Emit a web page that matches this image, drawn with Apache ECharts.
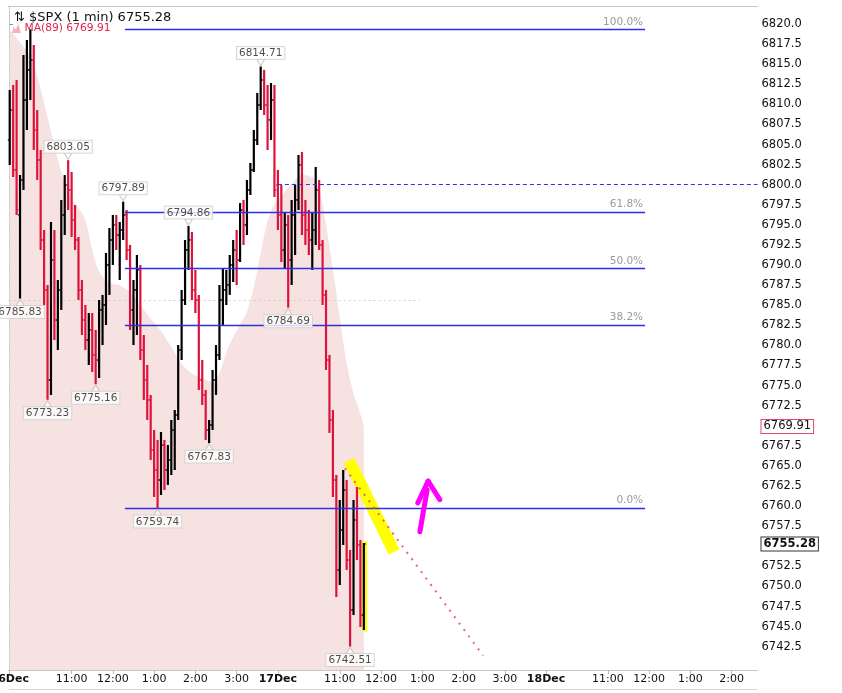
<!DOCTYPE html>
<html><head><meta charset="utf-8">
<script src="https://cdn.jsdelivr.net/npm/echarts@6/dist/echarts.min.js"></script>
<style>html,body{margin:0;padding:0;background:#fff}#c{width:842px;height:693px}</style>
</head><body><div id="c"></div>
<script>
// ---- x axis (5-minute slots from 16 Dec 9:30) ----
const slotCount = 218;
const tickSlots  = [0, 18, 30, 42, 54, 66, 78, 96, 108, 120, 132, 144, 156, 174, 186, 198, 210];
const tickLabels = ['16Dec','11:00','12:00','1:00','2:00','3:00','17Dec','11:00','12:00','1:00','2:00','3:00','18Dec','11:00','12:00','1:00','2:00'];
// ---- y axis tick labels ----
const priceTicks = [6742.5,6745,6747.5,6750,6752.5,6757.5,6760,6762.5,6765,6767.5,6772.5,6775,6777.5,6780,6782.5,6785,6787.5,6790,6792.5,6795,6797.5,6800,6802.5,6805,6807.5,6810,6812.5,6815,6817.5,6820];
// ---- bars: [slot, open, high, low, close] ----
const barsDec16 = [
[0,6805.57,6811.79,6802.45,6809.30],[1,6809.30,6812.41,6800.96,6801.83],[2,6801.83,6813.03,6796.23,6796.85],
[3,6796.23,6801.21,6785.83,6800.59],[4,6800.59,6816.14,6799.34,6810.54],[5,6810.54,6818.01,6806.81,6814.28],
[6,6814.28,6819.34,6810.54,6815.52],[7,6815.52,6817.39,6804.32,6806.81],[8,6806.81,6809.30,6800.59,6803.08],
[9,6803.08,6804.32,6791.87,6793.12],[10,6793.12,6794.36,6785.03,6786.90],[11,6786.90,6787.52,6773.23,6775.69],
[12,6775.69,6795.36,6773.83,6790.63],[13,6790.63,6794.36,6780.67,6783.16],[14,6783.16,6788.14,6779.43,6786.90],
[15,6786.90,6798.10,6784.41,6796.23],[16,6796.23,6801.21,6793.74,6799.96],[17,6799.96,6803.05,6796.85,6799.34],
[18,6799.34,6801.58,6793.49,6795.61],[19,6795.61,6797.47,6791.87,6793.12],[20,6793.12,6793.49,6785.65,6786.90],
[21,6786.90,6788.14,6781.29,6783.16],[22,6783.16,6785.03,6779.43,6780.67],[23,6780.67,6784.03,6777.56,6781.92],
[24,6781.92,6784.03,6776.69,6778.81],[25,6778.81,6781.92,6775.16,6778.18],[26,6778.18,6785.65,6775.94,6784.41],
[27,6784.41,6786.28,6780.05,6785.03],[28,6785.03,6791.50,6782.54,6790.01],[29,6790.01,6794.61,6786.28,6793.12],
[30,6793.12,6796.23,6790.01,6794.99],[31,6794.99,6796.23,6791.87,6793.74],[32,6793.74,6795.36,6788.14,6794.36],
[33,6794.36,6797.89,6793.12,6796.23],[34,6796.23,6796.85,6790.63,6791.87],[35,6791.87,6792.50,6781.92,6784.41],
[36,6784.41,6788.14,6780.05,6786.90],[37,6786.90,6791.25,6781.29,6789.39],[38,6789.39,6790.01,6778.18,6779.43],
[39,6779.43,6781.29,6773.21,6775.69],[40,6775.69,6777.56,6770.72,6773.21],[41,6773.21,6773.83,6765.74,6766.98],
[42,6766.98,6769.47,6761.13,6764.49],[43,6764.49,6768.23,6759.74,6763.25],[44,6763.25,6769.22,6761.38,6767.60],
[45,6767.60,6768.23,6762.00,6764.49],[46,6764.49,6767.60,6762.63,6765.74],[47,6765.74,6770.72,6763.87,6769.47],
[48,6769.47,6771.96,6764.49,6771.34],[49,6771.34,6780.05,6770.72,6779.43],[50,6779.43,6786.90,6778.18,6785.65],
[51,6785.65,6793.12,6785.03,6791.87],[52,6791.87,6794.86,6789.39,6793.12],[53,6793.12,6794.12,6785.65,6786.90],
[54,6786.90,6789.39,6784.03,6785.65],[55,6785.65,6786.28,6774.45,6775.69],[56,6775.69,6778.18,6772.58,6773.83],
[57,6773.83,6774.45,6768.23,6769.47],[58,6769.47,6770.72,6767.83,6770.09],[59,6770.09,6776.94,6769.47,6775.69],
[60,6775.69,6780.05,6773.83,6778.81],[61,6778.81,6787.52,6778.18,6785.65],[62,6785.65,6789.63,6782.54,6786.90],
[63,6786.90,6789.39,6785.03,6787.52],[64,6787.52,6791.25,6786.28,6790.01],[65,6790.01,6793.12,6787.89,6791.87],
[66,6791.87,6794.36,6787.52,6790.63],[67,6790.63,6797.72,6790.38,6796.85],[68,6796.85,6798.10,6792.50,6794.99],
[69,6794.99,6800.59,6793.74,6799.34],[70,6799.34,6802.70,6798.72,6801.83],[71,6801.83,6806.81,6801.58,6805.57],
[72,6805.57,6811.42,6804.94,6809.92],[73,6809.92,6814.71,6809.30,6813.03],[74,6813.03,6814.28,6808.68,6809.92],
[75,6809.92,6812.41,6804.32,6808.06],[76,6808.06,6812.66,6805.57,6810.54],[77,6810.54,6812.41,6798.47,6799.34]
];
const barsDec17 = [
[78,6799.96,6801.83,6794.36,6796.23],[79,6796.23,6799.96,6790.38,6791.87],[80,6791.87,6796.60,6789.63,6794.99],
[81,6794.99,6796.23,6784.69,6790.63],[82,6790.63,6798.10,6787.52,6796.23],[83,6796.23,6799.96,6791.25,6798.10],
[84,6798.10,6803.70,6796.85,6802.45],[85,6802.45,6804.07,6793.74,6796.23],[86,6796.23,6798.10,6792.50,6794.36],
[87,6794.36,6796.85,6791.25,6793.12],[88,6793.12,6796.60,6789.39,6794.36],[89,6794.36,6802.21,6792.50,6799.34],
[90,6799.34,6800.59,6791.87,6792.50],[91,6792.50,6793.12,6785.03,6786.28],[92,6786.28,6786.90,6776.94,6778.18],
[93,6778.18,6778.81,6769.10,6770.72],[94,6770.72,6771.96,6761.13,6763.25],[95,6763.25,6763.87,6748.68,6752.05],
[96,6752.05,6760.76,6750.18,6757.03],[97,6757.03,6764.49,6755.16,6762.00],[98,6762.00,6763.25,6752.05,6753.29],
[99,6753.29,6754.54,6742.51,6747.07],[100,6747.07,6760.76,6746.44,6758.27],[101,6758.27,6762.38,6753.29,6755.16],
[102,6755.16,6755.78,6744.95,6746.44],[103,6746.44,6755.40,6744.58,6755.28]
];
// ---- MA(89) read at selected slots ----
const maPoints = [[0,6819.3],[3,6817.7],[6,6816.0],[8,6813.5],[10,6810.2],[12,6806.6],[14,6803.2],[16,6800.2],[18,6798.2],
[20,6797.1],[22,6795.6],[24,6791.9],[26,6789.2],[29,6787.8],[32,6787.5],[35,6786.6],[38,6785.0],[41,6783.3],[44,6781.8],
[47,6779.8],[50,6777.7],[53,6776.5],[56,6775.9],[59,6775.4],[61,6776.6],[63,6779.1],[65,6781.0],[67,6782.6],[69,6784.2],
[71,6787.3],[73,6791.5],[75,6795.5],[77,6797.6],[79,6798.6],[82,6800.1],[85,6801.2],[88,6800.9],[90,6799.5],[92,6795.0],
[94,6789.5],[96,6783.5],[98,6777.8],[100,6774.0],[102,6771.5],[103,6769.91]];
// ---- annotated pivots ----
const pivotHighs = [[73,6814.71],[17,6803.05],[33,6797.89],[52,6794.86]];
const pivotLows  = [[3,6785.83],[81,6784.69],[11,6773.23],[25,6775.16],[58,6767.83],[43,6759.74],[99,6742.51]];
// ---- fibonacci retracement ----
const fibNames  = ['100.0%','61.8%','50.0%','38.2%','0.0%'];
const fibLevels = [6819.34, 6796.57, 6789.54, 6782.51, 6759.74];
const fibFrom = 33.5, fibTo = 184.8;
// ---- other levels / drawings ----
const lastClose = 6755.28, lastMA = 6769.91;
const dashedLevel = 6800.0, dashedFrom = 78;
const dottedLevel = 6785.6, dottedTo = 119.3;
const trendLine = [[97.5, 6764.7], [137.7, 6741.4]];
const highlightStroke = [[98.7, 6765.7], [111.8, 6754.3]];
const lastBarMark = [[103.1, 6755.6], [103.1, 6744.4]];
const arrowStrokes = [
  [[119.3, 6756.8], [121.4, 6762.0]],
  [[118.7, 6760.4], [121.7, 6763.1]],
  [[125.1, 6760.8], [121.7, 6763.1]]
];

const FONT = 'DejaVu Sans';
const tickSet = new Set(tickSlots);
const categories = Array.from({length: slotCount}, (_, i) => String(i));
const bars = barsDec16.concat(barsDec17);

const boxLabel = (txt, border, bold) => ({
  show: true, position: 'end', distance: 4, formatter: txt,
  fontFamily: FONT, fontSize: 11.5, fontWeight: bold ? 'bold' : 'normal', color: '#111',
  backgroundColor: '#fff', borderColor: border, borderWidth: 1, padding: [1, 2, 0, 2]
});

const chart = echarts.init(document.getElementById('c'));
chart.setOption({
  backgroundColor: '#fff',
  animation: false,
  title: {
    text: '⇅ $SPX (1 min) 6755.28', left: 9, top: 6,
    textStyle: {fontFamily: FONT, fontSize: 13, fontWeight: 'normal', color: '#111'}
  },
  legend: {
    left: 12, top: 23, itemWidth: 12, itemHeight: 9, itemGap: 2, selectedMode: false, padding: 0,
    data: [{name: 'MA(89) 6769.91', icon: 'path://M0,10L2,3L4,6L7,0L10,10Z'}],
    textStyle: {fontFamily: FONT, fontSize: 10.7, color: '#e1234d', padding: [0, 0, 0, -3]}
  },
  graphic: [{
    type: 'line', silent: true, z: 0,
    shape: {x1: 9, y1: 689.5, x2: 758, y2: 689.5},
    style: {stroke: '#d6d6d6', lineWidth: 1}
  }],
  grid: {left: 8, right: 84.5, top: 6, bottom: 23, outerBoundsMode: 'none', containLabel: false},
  xAxis: [{
    type: 'category', data: categories, boundaryGap: true, position: 'bottom',
    axisLine: {show: true, lineStyle: {color: '#c8c8c8'}},
    axisTick: {show: true, interval: (i) => tickSet.has(i), alignWithLabel: true, length: 4, lineStyle: {color: '#bbb'}},
    axisLabel: {
      interval: (i) => tickSet.has(i), margin: 4, fontFamily: FONT, fontSize: 11, color: '#111',
      hideOverlap: false, showMinLabel: true, showMaxLabel: true,
      formatter: (v, i) => {
        const k = tickSlots.indexOf(i);
        if (k < 0) return '';
        const t = tickLabels[k];
        return /Dec/.test(t) ? '{b|' + t + '}' : t;
      },
      rich: {b: {fontFamily: FONT, fontSize: 11, fontWeight: 'bold', color: '#111'}}
    },
    splitLine: {show: false}
  }, {
    type: 'value', min: -0.5, max: slotCount - 0.5, position: 'top',
    axisLine: {show: true, onZero: false, lineStyle: {color: '#c8c8c8'}},
    axisTick: {show: false}, axisLabel: {show: false}, splitLine: {show: false}
  }],
  yAxis: [{
    type: 'value', position: 'right', min: 6739.6, max: 6822.24, scale: true,
    axisLine: {show: true, lineStyle: {color: '#c8c8c8'}},
    axisTick: {show: true, length: 3, customValues: priceTicks, lineStyle: {color: '#888'}},
    axisLabel: {customValues: priceTicks, margin: 4, fontFamily: FONT, fontSize: 11.5, color: '#111',
      formatter: (v) => v.toFixed(1)},
    splitLine: {show: false}
  }],
  series: [
    {
      name: 'MA(89) 6769.91', type: 'line', xAxisIndex: 1, yAxisIndex: 0, data: maPoints,
      smooth: 0.35, symbol: 'none', z: 1, silent: true,
      itemStyle: {color: '#f1b3bd'},
      lineStyle: {width: 0, color: '#f1b3bd'},
      areaStyle: {color: '#f7e2e2', opacity: 1, origin: 'start'}
    },
    {
      type: 'lines', coordinateSystem: 'cartesian2d', xAxisIndex: 1, yAxisIndex: 0, z: 2, silent: true,
      data: [{coords: highlightStroke}],
      lineStyle: {color: '#ffff00', width: 12, opacity: 1, cap: 'butt'}
    },
    {
      type: 'lines', coordinateSystem: 'cartesian2d', xAxisIndex: 1, yAxisIndex: 0, z: 2, silent: true,
      data: [{coords: lastBarMark}],
      lineStyle: {color: '#ffff00', width: 5, opacity: 1}
    },
    {
      type: 'lines', coordinateSystem: 'cartesian2d', xAxisIndex: 1, yAxisIndex: 0, z: 3, silent: true,
      data: [{coords: [[-0.3, dottedLevel], [dottedTo, dottedLevel]]}],
      lineStyle: {color: '#d0d0d0', width: 1, type: [2, 3], opacity: 1}
    },
    {
      type: 'custom', xAxisIndex: 1, yAxisIndex: 0, z: 4, silent: true, data: bars,
      encode: {x: 0, y: [1, 2, 3, 4]},
      renderItem: (params, api) => {
        const x = api.value(0), o = api.value(1), h = api.value(2), l = api.value(3), c = api.value(4);
        const pH = api.coord([x, h]), pL = api.coord([x, l]), pO = api.coord([x, o]), pC = api.coord([x, c]);
        const color = c >= o ? '#000000' : '#dc143c';
        const hw = api.size([1, 0])[0] * 0.55;
        return {type: 'group', children: [
          {type: 'line', shape: {x1: pH[0], y1: pH[1], x2: pL[0], y2: pL[1]}, style: {stroke: color, lineWidth: 2.2}},
          {type: 'line', shape: {x1: pO[0] - hw, y1: pO[1], x2: pO[0], y2: pO[1]}, style: {stroke: color, lineWidth: 1.3}},
          {type: 'line', shape: {x1: pC[0], y1: pC[1], x2: pC[0] + hw, y2: pC[1]}, style: {stroke: color, lineWidth: 1.3}}
        ]};
      },
      markLine: {
        silent: true, symbol: 'none', animation: false,
        lineStyle: {color: 'rgba(0,0,0,0)', width: 0},
        data: [
          {yAxis: lastMA, label: boxLabel(lastMA.toFixed(2), '#e24a68', false)},
          {yAxis: lastClose, label: boxLabel(lastClose.toFixed(2), '#333', true)}
        ]
      }
    },
    {
      type: 'lines', coordinateSystem: 'cartesian2d', xAxisIndex: 1, yAxisIndex: 0, z: 5, silent: true,
      data: fibLevels.map((v, k) => ({name: fibNames[k], coords: [[fibFrom, v], [fibTo, v]]})),
      lineStyle: {color: '#2f2fe8', width: 1.3, opacity: 1},
      label: {show: true, position: 'insideEndTop', distance: 2, formatter: (p) => p.name,
        fontFamily: FONT, fontSize: 10.5, color: '#9a9a9a'}
    },
    {
      type: 'lines', coordinateSystem: 'cartesian2d', xAxisIndex: 1, yAxisIndex: 0, z: 5, silent: true,
      data: [{coords: [[dashedFrom, dashedLevel], [slotCount - 0.5, dashedLevel]]}],
      lineStyle: {color: '#2f2fe8', width: 1, type: [4, 3], opacity: 1}
    },
    {
      type: 'lines', coordinateSystem: 'cartesian2d', xAxisIndex: 1, yAxisIndex: 0, z: 6, silent: true,
      data: [{coords: trendLine}],
      lineStyle: {color: '#f0505e', width: 2, type: [2, 6], opacity: 0.9}
    },
    {
      type: 'lines', coordinateSystem: 'cartesian2d', xAxisIndex: 1, yAxisIndex: 0, z: 6, silent: true,
      data: arrowStrokes.map((s) => ({coords: s})),
      lineStyle: {color: '#ff00ff', width: 5, opacity: 1, cap: 'round'}
    },
    {
      type: 'scatter', xAxisIndex: 1, yAxisIndex: 0, z: 7, silent: true, data: pivotHighs,
      symbol: 'triangle', symbolSize: [8, 6], symbolRotate: 180, symbolOffset: [0, -4],
      itemStyle: {color: '#fff', borderColor: '#bdbdbd', borderWidth: 1},
      label: {show: true, position: 'top', distance: 0, formatter: (p) => p.value[1].toFixed(2),
        fontFamily: FONT, fontSize: 10.5, color: '#222', backgroundColor: '#fff',
        borderColor: '#cfcfcf', borderWidth: 1, padding: [1, 2, 0, 2]}
    },
    {
      type: 'scatter', xAxisIndex: 1, yAxisIndex: 0, z: 7, silent: true, data: pivotLows,
      symbol: 'triangle', symbolSize: [8, 6], symbolOffset: [0, 4],
      itemStyle: {color: '#fff', borderColor: '#bdbdbd', borderWidth: 1},
      label: {show: true, position: 'bottom', distance: 0, formatter: (p) => p.value[1].toFixed(2),
        fontFamily: FONT, fontSize: 10.5, color: '#222', backgroundColor: '#fff',
        borderColor: '#cfcfcf', borderWidth: 1, padding: [1, 2, 0, 2]}
    }
  ]
});
</script>
</body></html>
